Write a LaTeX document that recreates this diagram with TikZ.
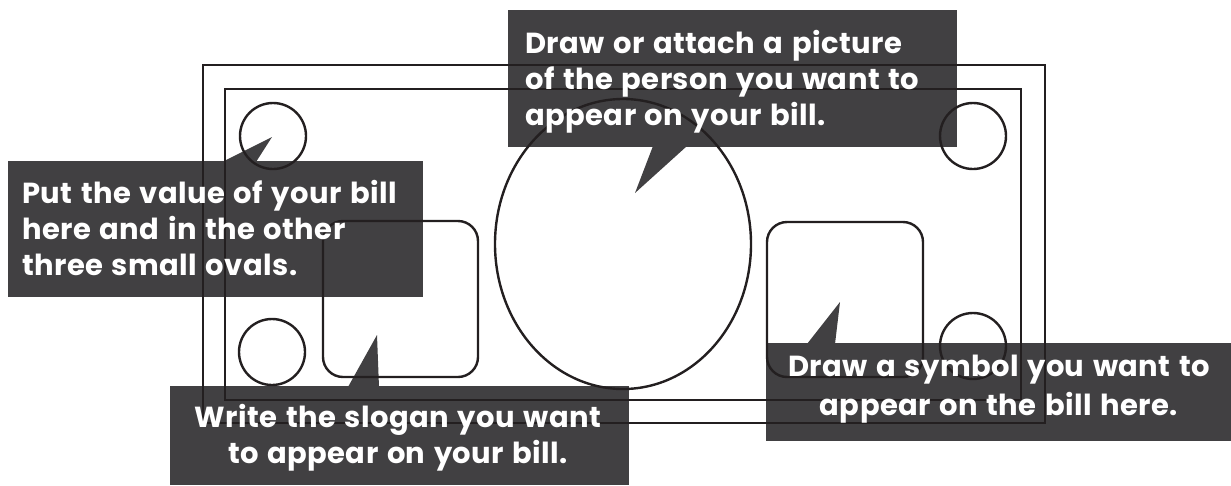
\documentclass[tikz,border=0pt]{standalone}
\usepackage{fontspec}
\setmainfont{Poppins}[LetterSpace=1.5,WordSpace=1.3]
\definecolor{boxgray}{HTML}{414042}
\definecolor{ink}{HTML}{231F20}
\begin{document}
\begin{tikzpicture}[x=1pt,y=-1pt,
  callout/.style={fill=boxgray,draw=none,inner sep=0pt,anchor=north west},
  outline/.style={draw=ink,line width=2.4pt},
  label/.style={text=white,font=\fontsize{29}{36}\selectfont\bfseries,inner sep=0pt}]
\useasboundingbox (0,0) rectangle (1231,485);
% callout boxes
\node[callout,minimum width=449pt,minimum height=137pt] (topbox) at (508,10) {};
\node[callout,minimum width=415pt,minimum height=136pt] (leftbox) at (8,161) {};
\node[callout,minimum width=459pt,minimum height=99pt] (botbox) at (170,386) {};
\node[callout,minimum width=465pt,minimum height=98pt] (rightbox) at (766,343) {};
% tails
\coordinate (toptip) at (635,193);
\coordinate (lefttip) at (272,137);
\coordinate (bottip) at (377,335);
\coordinate (righttip) at (840,302);
\fill[boxgray] (653,146) -- (toptip) -- (687,146) -- cycle;
\fill[boxgray] (222,162) -- (lefttip) -- (256,162) -- cycle;
\fill[boxgray] (348,387) -- (bottip) -- (379,387) -- cycle;
\fill[boxgray] (807,344) -- (righttip) -- (835,344) -- cycle;
% bill outline
\draw[outline] (203,65) rectangle (1045,423);
\draw[outline] (225,89) rectangle (1021,400);
\draw[outline] (273,136) circle[radius=33];
\draw[outline] (973,136) circle[radius=33];
\draw[outline] (272,352) circle[radius=33];
\draw[outline] (973,346) circle[radius=33];
\draw[outline] (623,244) ellipse[x radius=128,y radius=145];
\draw[outline,rounded corners=20pt] (323,221) rectangle (478,377);
\draw[outline,rounded corners=20pt] (767,222) rectangle (923,377);
% texts
\node[label,align=left,anchor=base west] (toptext) at (525,125)
  {Draw or attach a picture\\of the person you want to\\appear on your bill.};
\node[label,align=left,anchor=base west] (lefttext) at (22,275)
  {Put the value of your bill\\here and in the other\\three small ovals.};
\node[label,align=center,anchor=base] (bottext) at (398,463)
  {Write the slogan you want\\to appear on your bill.};
\node[label,align=center,anchor=base] (righttext) at (999,415)
  {Draw a symbol you want to\\[3pt]appear on the bill here.};
\end{tikzpicture}
\end{document}
